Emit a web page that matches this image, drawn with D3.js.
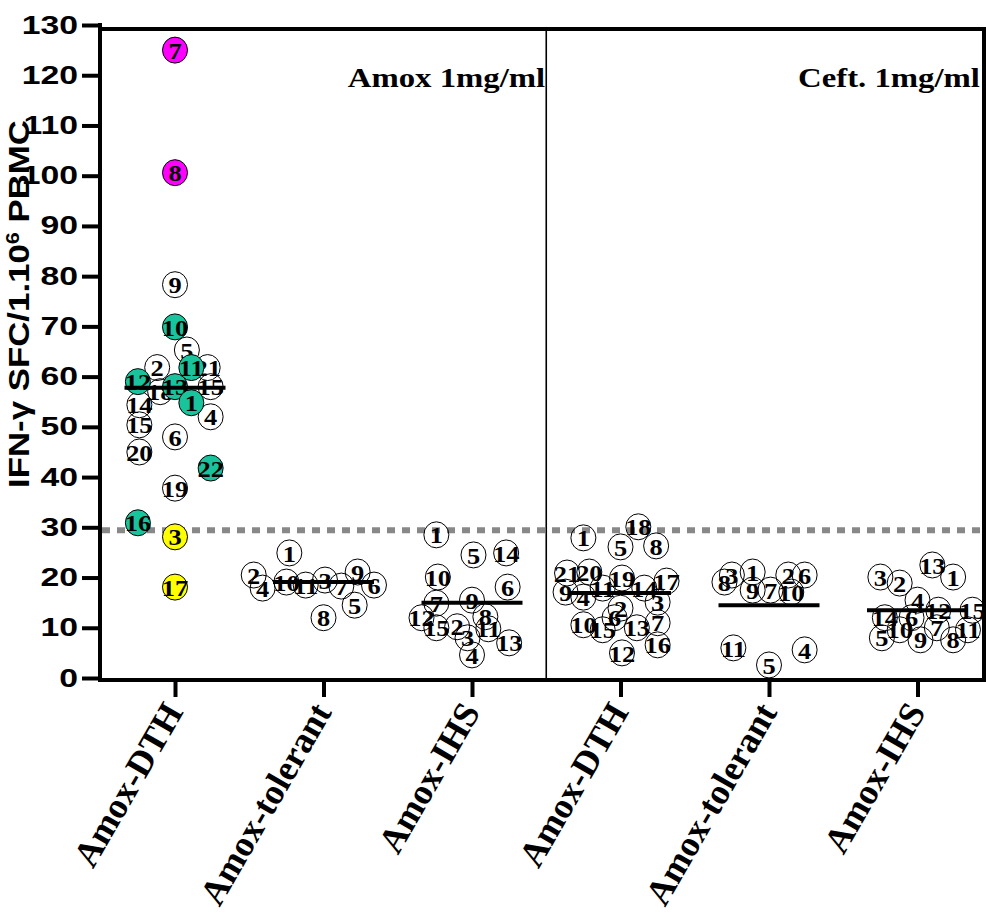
<!DOCTYPE html>
<html>
<head>
<meta charset="utf-8">
<script src="https://cdn.jsdelivr.net/npm/d3@7"></script>
<style>
  html, body { margin: 0; padding: 0; background: #fff; }
  #chart { width: 986px; height: 913px; }
</style>
</head>
<body>
<div id="chart"></div>
<script>
// categories along the x axis
const groups = ["Amox-DTH", "Amox-tolerant", "Amox-IHS", "Amox-DTH", "Amox-tolerant", "Amox-IHS"];
const panelTitles = ["Amox 1mg/ml", "Ceft. 1mg/ml"];
const yTicks = [0, 10, 20, 30, 40, 50, 60, 70, 80, 90, 100, 110, 120, 130];
const cutoff = 29.4;
const means = [57.8, 19.1, 15.0, 16.9, 14.5, 13.5];

// each point: [patient label, value, jitter (in category units), class]
const amoxDTH = [
  [9, 78.3, 0, ""], [5, 65.3, 0.08, ""], [2, 61.8, -0.12, ""], [21, 61.8, 0.22, ""],
  [18, 57, -0.10, ""], [15, 58, 0.24, ""], [14, 54.4, -0.24, ""], [4, 52, 0.24, ""],
  [15, 50.4, -0.24, ""], [6, 48, 0, ""], [20, 45, -0.24, ""], [19, 37.8, 0, ""],
  [7, 125, 0, "hi"], [8, 100.6, 0, "hi"],
  [10, 69.9, 0, "pos"], [11, 61.8, 0.11, "pos"], [12, 59, -0.25, "pos"], [13, 58, 0, "pos"],
  [1, 54.8, 0.11, "pos"], [22, 41.8, 0.24, "pos"], [16, 30.9, -0.25, "pos"],
  [3, 28.1, 0, "low"], [17, 18.1, 0, "low"]
];
const amoxTol = [
  [1, 24.9, -0.23, ""], [2, 20.5, -0.47, ""], [4, 17.9, -0.41, ""], [10, 19.1, -0.25, ""],
  [11, 18.5, -0.12, ""], [3, 19.5, 0.01, ""], [7, 18.3, 0.12, ""], [9, 21.1, 0.23, ""],
  [6, 18.5, 0.34, ""], [5, 14.5, 0.21, ""], [8, 12, 0, ""]
];
const amoxIHS = [
  [1, 28.5, -0.24, ""], [5, 24.5, 0.01, ""], [14, 24.9, 0.23, ""], [10, 20.1, -0.23, ""],
  [6, 18.1, 0.24, ""], [7, 14.9, -0.24, ""], [9, 15.5, 0, ""], [8, 12.2, 0.09, ""],
  [12, 12, -0.34, ""], [15, 10, -0.24, ""], [2, 10.2, -0.10, ""], [3, 8, -0.03, ""],
  [11, 9.8, 0.11, ""], [13, 7, 0.25, ""], [4, 4.6, 0, ""]
];
const ceftDTH = [
  [1, 27.9, -0.25, ""], [18, 30.1, 0.12, ""], [5, 26.1, 0, ""], [8, 26.3, 0.24, ""],
  [21, 20.9, -0.36, ""], [20, 21.1, -0.21, ""], [19, 19.9, 0.01, ""], [17, 19.3, 0.31, ""],
  [9, 17.1, -0.37, ""], [4, 16.1, -0.25, ""], [11, 17.9, -0.12, ""], [14, 17.9, 0.16, ""],
  [3, 15.1, 0.25, ""], [2, 13.9, 0, ""], [6, 12, -0.04, ""], [7, 11, 0.25, ""],
  [10, 10.6, -0.25, ""], [15, 9.6, -0.12, ""], [13, 10, 0.11, ""], [16, 6.6, 0.25, ""],
  [12, 5, 0.01, ""]
];
const ceftTol = [
  [3, 20.5, -0.25, ""], [1, 21.1, -0.11, ""], [8, 19.1, -0.30, ""], [9, 17.5, -0.11, ""],
  [7, 17.5, 0.01, ""], [2, 20.5, 0.13, ""], [6, 20.5, 0.24, ""], [10, 17.1, 0.15, ""],
  [11, 6, -0.24, ""], [5, 2.6, 0, ""], [4, 5.6, 0.24, ""]
];
const ceftIHS = [
  [3, 20.1, -0.25, ""], [2, 18.9, -0.12, ""], [13, 22.5, 0.10, ""], [1, 20.1, 0.24, ""],
  [4, 15.5, 0, ""], [12, 13.5, 0.14, ""], [15, 13.5, 0.37, ""], [14, 12, -0.22, ""],
  [6, 12, -0.04, ""], [5, 8, -0.24, ""], [10, 9.6, -0.12, ""], [9, 7.6, 0.02, ""],
  [7, 10, 0.13, ""], [8, 7.6, 0.24, ""], [11, 9.6, 0.34, ""]
];
const allGroups = [amoxDTH, amoxTol, amoxIHS, ceftDTH, ceftTol, ceftIHS];

const fills = { "": "none", hi: "#ff00ff", pos: "#19c39c", low: "#ffff00" };

(function() {
  const width = 986, height = 913;
  const serif = "'Liberation Serif', 'Times New Roman', serif";
  const sans = "Arial, 'Liberation Sans', sans-serif";
  const svg = d3.select("#chart").append("svg")
    .attr("width", width).attr("height", height);

  const x = d3.scaleLinear().domain([0, 5]).range([175, 917.5]);
  const y = d3.scaleLinear().domain([0, 130]).range([678, 25]);
  const left = 100, right = 984, bottom = 680;
  const top = y(129.2);

  // stretch a text horizontally, the source figure is wider than its fonts
  const stretch = (sel, k) => sel.each(function() {
    const w = this.getComputedTextLength();
    d3.select(this).attr("textLength", w * k).attr("lengthAdjust", "spacingAndGlyphs");
  });

  // frame
  svg.append("line").attr("x1", left).attr("x2", width).attr("y1", top).attr("y2", top)
    .attr("stroke", "#000").attr("stroke-width", 4);
  svg.append("line").attr("x1", right).attr("x2", right).attr("y1", top).attr("y2", bottom)
    .attr("stroke", "#000").attr("stroke-width", 4);
  svg.append("line").attr("x1", x(2.5)).attr("x2", x(2.5)).attr("y1", top).attr("y2", bottom)
    .attr("stroke", "#000").attr("stroke-width", 1.6);

  // y axis
  const yAxis = svg.append("g").attr("transform", `translate(${left},0)`)
    .call(d3.axisLeft(y).tickValues(yTicks).tickSize(18).tickPadding(4));
  yAxis.select(".domain").attr("stroke-width", 4).attr("d", `M0,${y(130) - 2}V${bottom + 2}`);
  yAxis.selectAll(".tick line").attr("stroke-width", 4);
  yAxis.selectAll(".tick text")
    .style("font-family", sans)
    .style("font-weight", "bold").style("font-size", "25px")
    .attr("fill", "#000")
    .call(stretch, 1.35);

  // x axis
  const xAxis = svg.append("g").attr("transform", `translate(0,${bottom})`)
    .call(d3.axisBottom(x).tickValues(d3.range(groups.length)).tickSize(17).tickFormat(""));
  xAxis.select(".domain").attr("stroke-width", 4).attr("d", `M${left - 2},0H${width}`);
  xAxis.selectAll(".tick line").attr("stroke-width", 4);

  svg.append("g").selectAll("text").data(groups).join("text")
    .attr("transform", (d, i) => `translate(${x(i) + 9},712) rotate(-60)`)
    .attr("text-anchor", "end")
    .style("font-family", serif)
    .style("font-weight", "bold").style("font-size", "36px")
    .text(d => d);

  // y title
  const yTitle = svg.append("text")
    .attr("transform", "translate(29,304) rotate(-90)")
    .attr("text-anchor", "middle")
    .attr("textLength", 368).attr("lengthAdjust", "spacingAndGlyphs")
    .style("font-family", sans)
    .style("font-weight", "bold").style("font-size", "29px");
  yTitle.append("tspan").text("IFN-γ  SFC/1.10");
  yTitle.append("tspan").attr("baseline-shift", "super").style("font-size", "18px").text("6");
  yTitle.append("tspan").text(" PBMC");

  // panel titles
  svg.append("g").selectAll("text").data(panelTitles).join("text")
    .attr("x", (d, i) => i === 0 ? x(2.5) - 1 : right - 4)
    .attr("y", 87)
    .attr("text-anchor", "end")
    .style("font-family", serif)
    .style("font-weight", "bold").style("font-size", "28px")
    .text(d => d)
    .call(stretch, 1.17);

  // cutoff dashed line
  svg.append("line")
    .attr("x1", left + 2).attr("x2", right)
    .attr("y1", y(cutoff)).attr("y2", y(cutoff))
    .attr("stroke", "#888").attr("stroke-width", 6)
    .attr("stroke-dasharray", "8 7");

  // points
  allGroups.forEach((pts, gi) => {
    const g = svg.append("g");
    const node = g.selectAll("g").data(pts).join("g")
      .attr("transform", d => `translate(${x(gi + d[2])},${y(d[1])})`);
    node.append("ellipse")
      .attr("rx", 12.5).attr("ry", 13)
      .attr("fill", d => fills[d[3]])
      .attr("stroke", "#000").attr("stroke-width", 1);
    node.append("text")
      .attr("text-anchor", "middle").attr("dy", "0.36em")
      .style("font-family", serif)
      .style("font-weight", "bold").style("font-size", "24px")
      .text(d => d[0])
      .call(stretch, 1.1);
  });

  // mean lines
  svg.append("g").selectAll("line").data(means).join("line")
    .attr("x1", (d, i) => x(i - 0.34)).attr("x2", (d, i) => x(i + 0.34))
    .attr("y1", d => y(d)).attr("y2", d => y(d))
    .attr("stroke", "#000").attr("stroke-width", 4);
})();
</script>
</body>
</html>
